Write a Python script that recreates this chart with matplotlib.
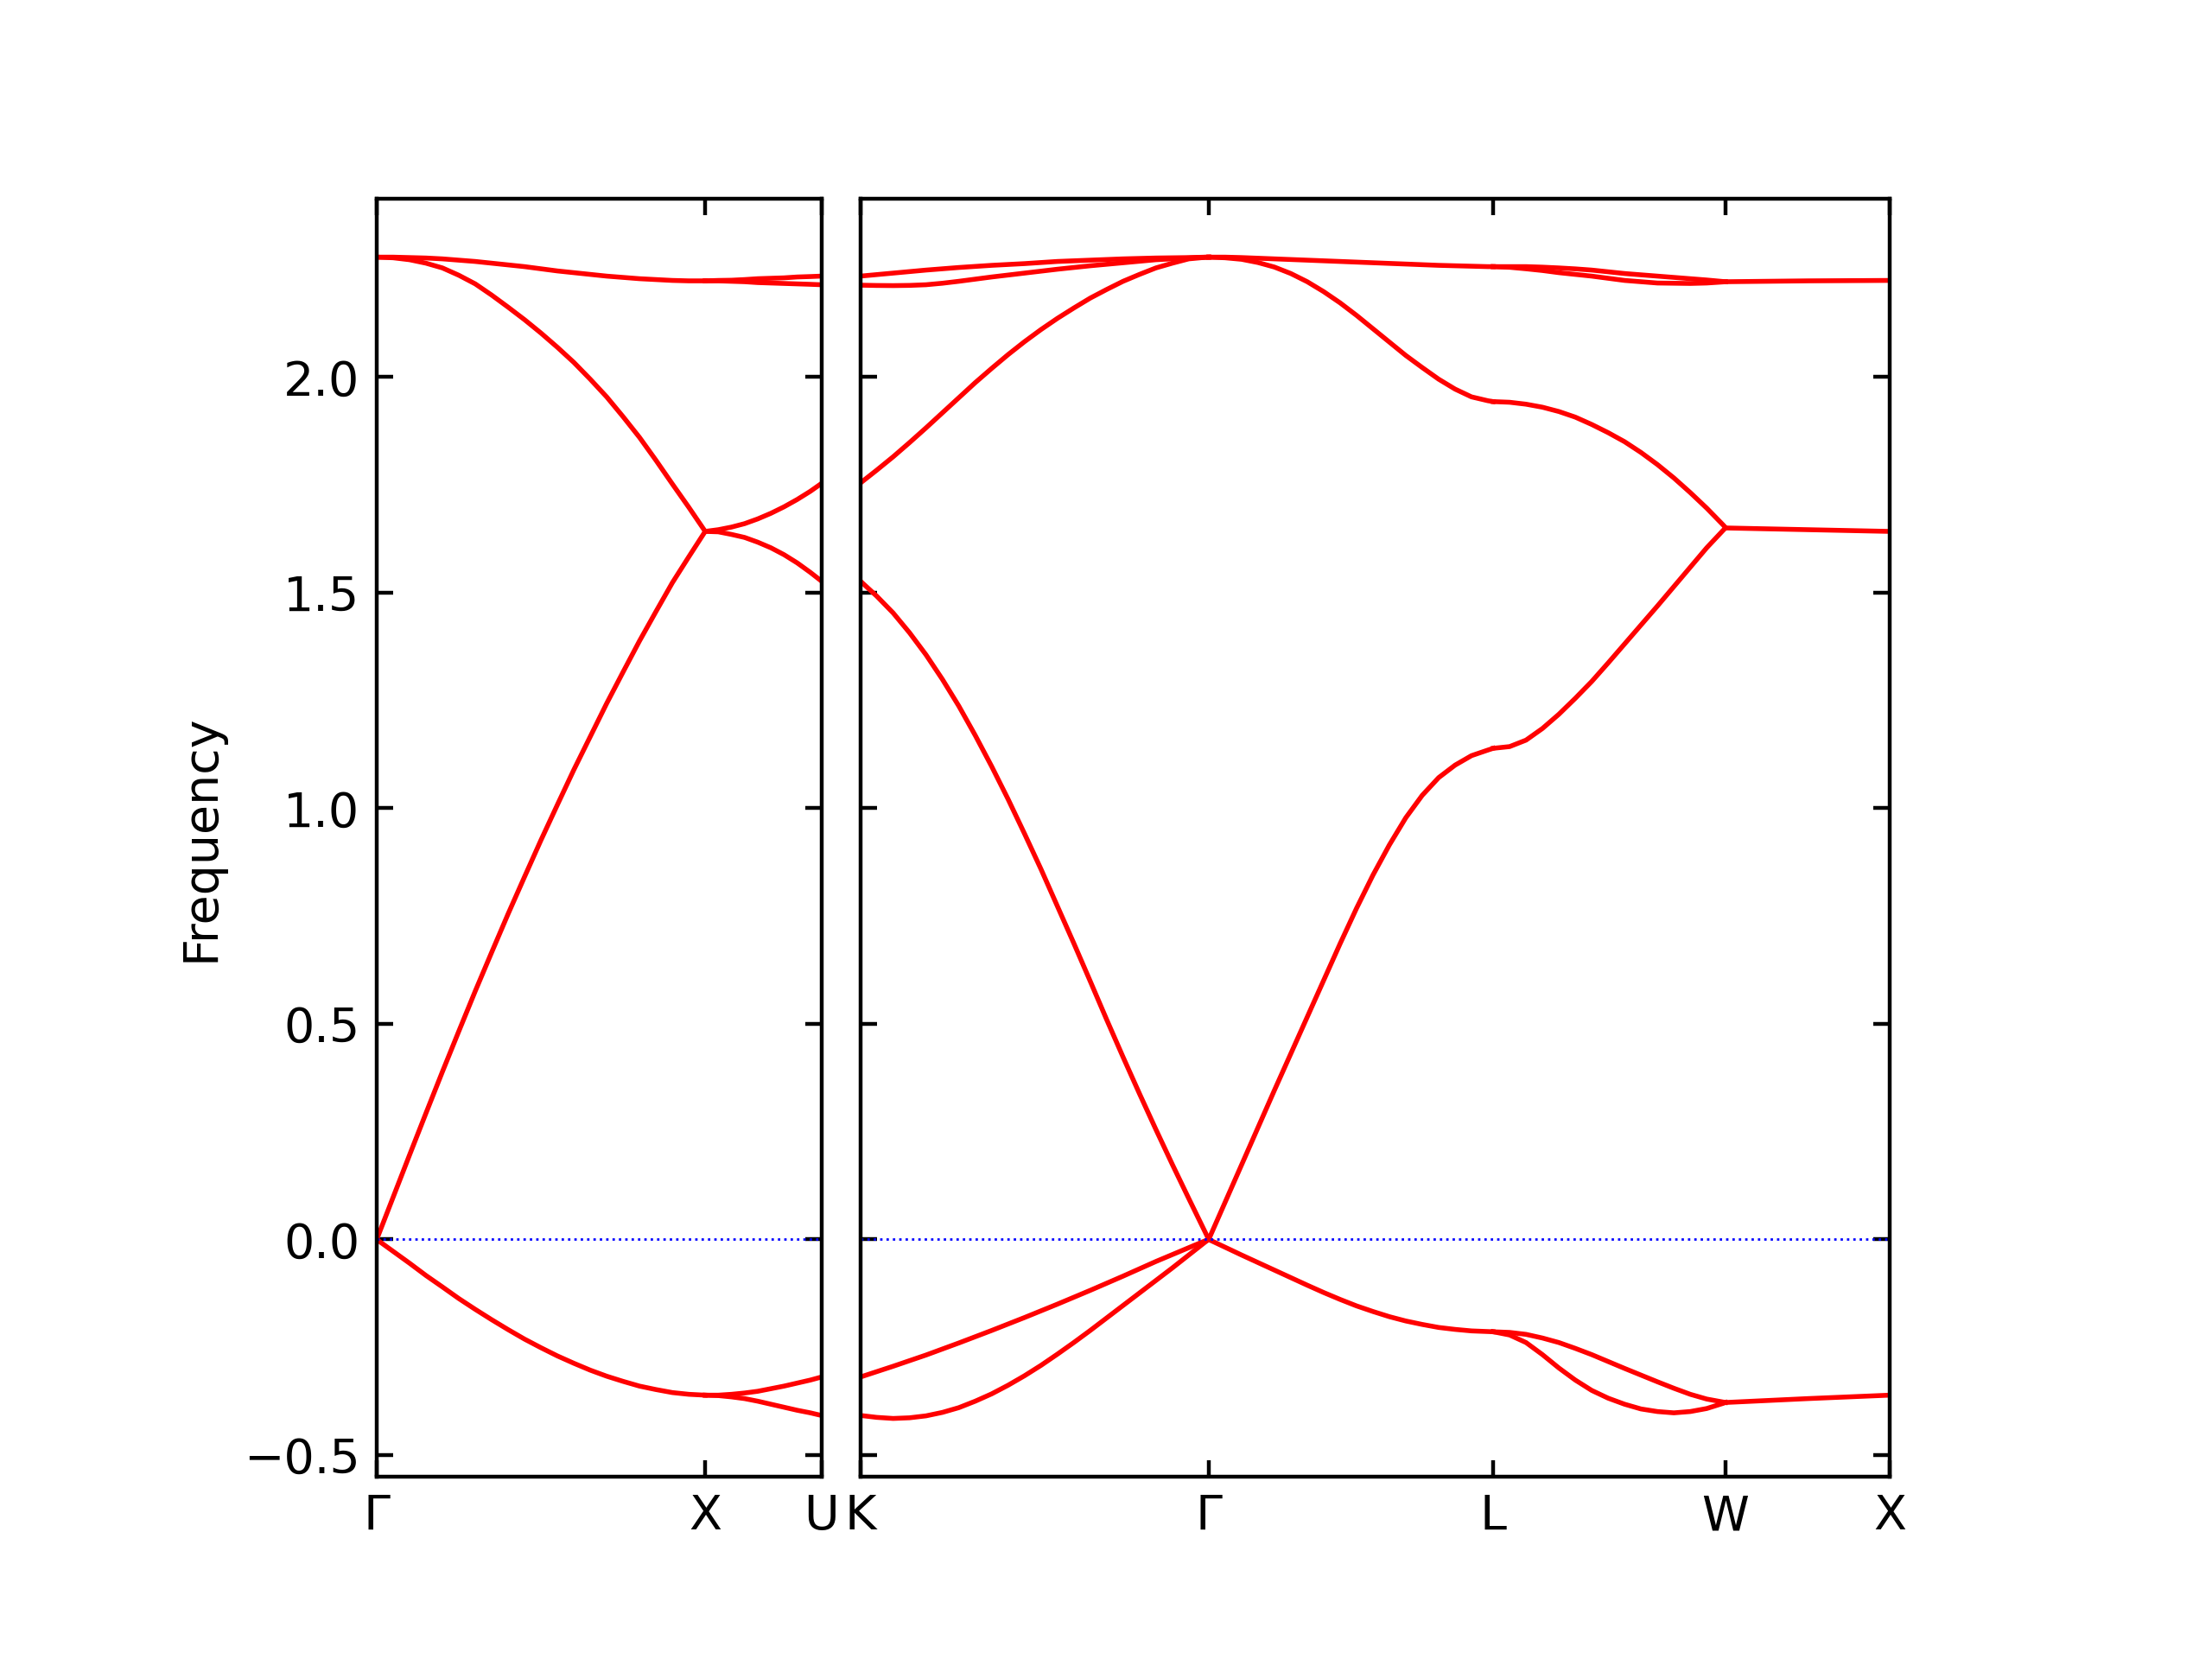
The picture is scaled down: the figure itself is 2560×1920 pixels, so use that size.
import matplotlib
matplotlib.use("Agg")
import matplotlib.pyplot as plt

# special points (distances in 2pi/a) and labels of the two path pieces
path1_labels = ["Γ", "X", "U"]
path1_ticks = [0.0, 1.0, 1.3536]
path2_labels = ["K", "Γ", "L", "W", "X"]
path2_ticks = [0.0, 1.0607, 1.9267, 2.6338, 3.1338]

# Gamma -> X
gx_q = [0.0, 0.05, 0.1, 0.15, 0.2, 0.25, 0.3, 0.35, 0.4, 0.45, 0.5,
        0.55, 0.6, 0.65, 0.7, 0.75, 0.8, 0.85, 0.9, 0.95, 1.0]
gx_bands = [
    [2.278, 2.278, 2.277, 2.276, 2.274, 2.271, 2.268, 2.264, 2.260, 2.256, 2.251,
     2.246, 2.242, 2.238, 2.234, 2.231, 2.228, 2.226, 2.224, 2.223, 2.223],
    [2.278, 2.2765, 2.272, 2.264, 2.253, 2.236, 2.216, 2.190, 2.162, 2.133, 2.102,
     2.069, 2.034, 1.995, 1.954, 1.908, 1.860, 1.807, 1.752, 1.698, 1.642],
    [0.0, 0.098, 0.196, 0.293, 0.389, 0.483, 0.576, 0.666, 0.755, 0.841, 0.926,
     1.008, 1.089, 1.166, 1.243, 1.316, 1.388, 1.456, 1.523, 1.583, 1.642],
    [0.0, -0.0275, -0.055, -0.0835, -0.110, -0.137, -0.162, -0.186, -0.209, -0.231, -0.251,
     -0.270, -0.287, -0.303, -0.317, -0.329, -0.340, -0.348, -0.355, -0.359, -0.361],
]

# X -> U
xu_q = [0.0, 0.04, 0.08, 0.12, 0.16, 0.20, 0.24, 0.28, 0.32, 0.3536]
xu_bands = [
    [2.223, 2.224, 2.2245, 2.226, 2.228, 2.229, 2.230, 2.232, 2.233, 2.234],
    [2.223, 2.223, 2.222, 2.221, 2.219, 2.218, 2.217, 2.216, 2.215, 2.214],
    [1.642, 1.646, 1.652, 1.660, 1.671, 1.684, 1.699, 1.716, 1.735, 1.753],
    [1.642, 1.641, 1.635, 1.628, 1.617, 1.604, 1.588, 1.569, 1.547, 1.527],
    [-0.361, -0.361, -0.359, -0.356, -0.352, -0.346, -0.340, -0.333, -0.326, -0.319],
    [-0.361, -0.362, -0.365, -0.369, -0.375, -0.382, -0.389, -0.396, -0.402, -0.408],
]

# K -> Gamma
kg_q = [0.0, 0.05, 0.1, 0.15, 0.2, 0.25, 0.3, 0.35, 0.4, 0.45, 0.5, 0.55,
        0.6, 0.65, 0.7, 0.75, 0.8, 0.85, 0.9, 0.95, 1.0, 1.05, 1.0607]
kg_bands = [
    [2.234, 2.2375, 2.241, 2.2445, 2.248, 2.251, 2.254, 2.2565, 2.259, 2.261, 2.263, 2.2655,
     2.268, 2.2695, 2.271, 2.2725, 2.274, 2.275, 2.276, 2.2765, 2.277, 2.278, 2.278],
    [2.213, 2.2123, 2.212, 2.2125, 2.214, 2.2175, 2.222, 2.227, 2.232, 2.2365, 2.241, 2.2455,
     2.250, 2.254, 2.258, 2.2615, 2.265, 2.2685, 2.272, 2.274, 2.276, 2.2778, 2.278],
    [1.754, 1.784, 1.815, 1.848, 1.882, 1.917, 1.952, 1.987, 2.020, 2.052, 2.082, 2.110,
     2.136, 2.160, 2.183, 2.203, 2.222, 2.238, 2.253, 2.264, 2.274, 2.2775, 2.278],
    [1.527, 1.492, 1.453, 1.407, 1.356, 1.299, 1.237, 1.169, 1.097, 1.021, 0.941, 0.859,
     0.773, 0.687, 0.599, 0.510, 0.423, 0.338, 0.255, 0.174, 0.095, 0.017, 0.0],
    [-0.319, -0.3065, -0.294, -0.281, -0.268, -0.254, -0.240, -0.2255, -0.211, -0.196, -0.181, -0.1655,
     -0.150, -0.134, -0.118, -0.1015, -0.085, -0.068, -0.051, -0.035, -0.019, -0.003, 0.0],
    [-0.408, -0.4125, -0.415, -0.4135, -0.409, -0.401, -0.390, -0.375, -0.358, -0.338, -0.316, -0.292,
     -0.266, -0.239, -0.211, -0.182, -0.153, -0.124, -0.095, -0.066, -0.036, -0.006, 0.0],
]

# Gamma -> L
gl_q = [0.0, 0.05, 0.1, 0.15, 0.2, 0.25, 0.3, 0.35, 0.4, 0.45,
        0.5, 0.55, 0.6, 0.65, 0.7, 0.75, 0.8, 0.85, 0.866]
gl_bands = [
    [2.278, 2.278, 2.277, 2.2755, 2.274, 2.2725, 2.271, 2.2695, 2.268, 2.2665,
     2.265, 2.2635, 2.262, 2.2605, 2.259, 2.258, 2.257, 2.256, 2.256],
    [2.278, 2.2765, 2.273, 2.2655, 2.255, 2.240, 2.221, 2.198, 2.172, 2.143,
     2.112, 2.081, 2.050, 2.022, 1.995, 1.972, 1.954, 1.945, 1.943],
    [0.0, 0.0865, 0.173, 0.2595, 0.346, 0.431, 0.516, 0.601, 0.686, 0.768,
     0.845, 0.915, 0.978, 1.030, 1.071, 1.100, 1.122, 1.135, 1.139],
    [0.0, -0.018, -0.036, -0.0535, -0.071, -0.0885, -0.106, -0.123, -0.139, -0.154,
     -0.167, -0.179, -0.189, -0.197, -0.204, -0.2085, -0.212, -0.2135, -0.214],
]

# L -> W
lw_q = [0.0, 0.05, 0.1, 0.15, 0.2, 0.25, 0.3, 0.35, 0.4, 0.45,
        0.5, 0.55, 0.6, 0.65, 0.7, 0.7071]
lw_bands = [
    [2.256, 2.256, 2.256, 2.2548, 2.253, 2.2508, 2.248, 2.244, 2.240, 2.237,
     2.234, 2.231, 2.228, 2.225, 2.2215, 2.221],
    [2.256, 2.2545, 2.251, 2.247, 2.242, 2.238, 2.234, 2.229, 2.224, 2.221,
     2.218, 2.2175, 2.217, 2.218, 2.2205, 2.221],
    [1.943, 1.9415, 1.937, 1.930, 1.920, 1.907, 1.890, 1.871, 1.850, 1.825,
     1.797, 1.766, 1.732, 1.696, 1.657, 1.651],
    [1.139, 1.143, 1.158, 1.185, 1.218, 1.255, 1.294, 1.337, 1.381, 1.425,
     1.469, 1.514, 1.559, 1.604, 1.6445, 1.650],
    [-0.214, -0.2155, -0.220, -0.2285, -0.239, -0.2525, -0.267, -0.283, -0.299, -0.3145,
     -0.330, -0.345, -0.359, -0.370, -0.377, -0.378],
    [-0.214, -0.2215, -0.239, -0.267, -0.298, -0.326, -0.350, -0.368, -0.382, -0.393,
     -0.399, -0.402, -0.399, -0.392, -0.380, -0.378],
]

# W -> X
wx_q = [0.0, 0.25, 0.5]
wx_bands = [
    [2.221, 2.223, 2.224],
    [1.650, 1.646, 1.642],
    [-0.378, -0.369, -0.361],
]


def plot_segment(ax, start, q, bands):
    x = [start + v for v in q]
    for b in bands:
        ax.plot(x, b, "r-", linewidth=1)


fig, axes = plt.subplots(1, 2, sharey=True, figsize=(6.4, 4.8), dpi=400,
                         gridspec_kw=dict(width_ratios=[path1_ticks[-1], path2_ticks[-1]],
                                          left=0.1703, right=0.8543, bottom=0.11, top=0.88,
                                          wspace=0.0528))

plot_segment(axes[0], path1_ticks[0], gx_q, gx_bands)
plot_segment(axes[0], path1_ticks[1], xu_q, xu_bands)

plot_segment(axes[1], path2_ticks[0], kg_q, kg_bands)
plot_segment(axes[1], path2_ticks[1], gl_q, gl_bands)
plot_segment(axes[1], path2_ticks[2], lw_q, lw_bands)
plot_segment(axes[1], path2_ticks[3], wx_q, wx_bands)

for ax, ticks, labels in zip(axes, [path1_ticks, path2_ticks], [path1_labels, path2_labels]):
    ax.axhline(0, linestyle=":", linewidth=0.5, color="b")
    ax.set_xlim(ticks[0], ticks[-1])
    ax.set_xticks(ticks)
    ax.set_xticklabels(labels)
    ax.xaxis.set_ticks_position("both")
    ax.yaxis.set_ticks_position("both")
    ax.tick_params(which="both", direction="in")

axes[0].set_ylabel("Frequency")

plt.savefig("out.png", dpi=400)
